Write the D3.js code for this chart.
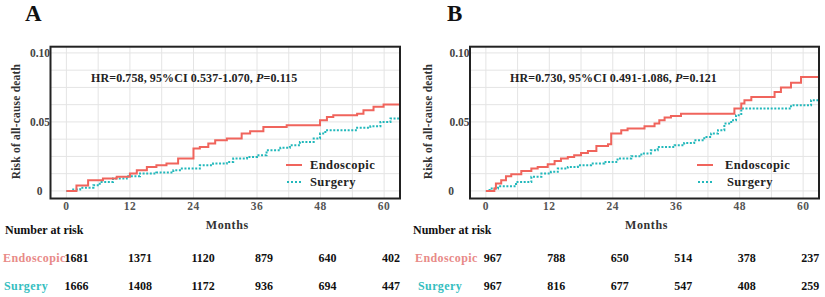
<!DOCTYPE html>
<html>
<head>
<meta charset="utf-8">
<script src="https://cdn.jsdelivr.net/npm/d3@7"></script>
<style>
  body { margin: 0; background: #fff; }
  svg { display: block; font-family: "Liberation Serif", "DejaVu Serif", serif; font-weight: bold; }
</style>
</head>
<body>
<script>
// ---- data ----
var timeTicks = [0, 12, 24, 36, 48, 60];
var riskTicks = [0, 0.05, 0.10];
var riskTickLabels = ["0", "0.05", "0.10"];
var groups = ["Endoscopic", "Surgery"];

// panel A, cumulative risk steps (month, risk)
var aEndoMonths = [0, 1.9, 4.1, 6.9, 9.5, 12, 13.3, 15.2, 17, 18.9, 21.1, 24, 25.2, 26.8, 28.1, 30.3, 33.1, 34.7, 37.2, 41.6, 47.9, 49.2, 50.4, 54.9, 56.1, 58, 59.9, 63];
var aEndoRisk   = [0, 0.004, 0.0078, 0.009, 0.0102, 0.0126, 0.015, 0.0174, 0.0186, 0.0198, 0.0235, 0.0307, 0.0319, 0.0343, 0.0367, 0.038, 0.0416, 0.0433, 0.0464, 0.0476, 0.0512, 0.0536, 0.0549, 0.056, 0.0585, 0.0609, 0.0626, 0.0626];
var aSurgMonths = [0, 1, 2.6, 5.1, 6.3, 8.8, 11.4, 13.9, 17, 20.2, 21.8, 25.2, 27.7, 30.3, 31.5, 34.1, 36, 37.8, 40.4, 42.2, 44.1, 46.7, 47.9, 48.9, 54.9, 57.4, 59.3, 61.2, 63];
var aSurgRisk   = [0, 0.001, 0.0022, 0.0041, 0.0065, 0.009, 0.0107, 0.0126, 0.0133, 0.015, 0.0162, 0.0186, 0.0198, 0.021, 0.0235, 0.0246, 0.0259, 0.0295, 0.0312, 0.0331, 0.0355, 0.038, 0.0416, 0.044, 0.0457, 0.0469, 0.05, 0.0525, 0.0525];

// panel B
var bEndoMonths = [0, 1.6, 1.9, 2.9, 3.8, 4.8, 6.7, 8.6, 9.8, 11.7, 13, 14.2, 15.5, 16.7, 18, 19.3, 20.9, 23.1, 23.7, 25.6, 26.8, 30, 31.9, 32.8, 33.8, 35, 36.9, 47, 48.3, 48.9, 50.2, 54.6, 55.8, 57.7, 59.6, 63];
var bEndoRisk   = [0, 0.0017, 0.0053, 0.0078, 0.0107, 0.0121, 0.0145, 0.0162, 0.0174, 0.0193, 0.0217, 0.0235, 0.0246, 0.0259, 0.0275, 0.029, 0.0326, 0.0338, 0.0416, 0.044, 0.0452, 0.0469, 0.0488, 0.0512, 0.0532, 0.0543, 0.056, 0.0597, 0.0633, 0.0657, 0.0681, 0.0717, 0.0749, 0.0783, 0.0826, 0.0826];
var bSurgMonths = [0, 0.7, 2.3, 5.7, 8.6, 10.5, 12.3, 13.6, 15.5, 17.4, 19.9, 22.4, 24.9, 27.5, 29.4, 31.2, 32.5, 35.7, 37.5, 39.4, 41.3, 42.6, 43.9, 45.1, 46.4, 47.3, 48.3, 57.7, 61.5, 63];
var bSurgRisk   = [0, 0.0017, 0.0034, 0.0065, 0.0102, 0.0126, 0.0138, 0.0162, 0.0174, 0.0186, 0.0198, 0.021, 0.0235, 0.0251, 0.0271, 0.0295, 0.0319, 0.0331, 0.0348, 0.0367, 0.0391, 0.0416, 0.044, 0.0488, 0.0512, 0.0549, 0.0597, 0.0621, 0.0657, 0.0657];

// numbers at risk
var aEndoAtRisk = [1681, 1371, 1120, 879, 640, 402];
var aSurgAtRisk = [1666, 1408, 1172, 936, 694, 447];
var bEndoAtRisk = [967, 788, 650, 514, 378, 237];
var bSurgAtRisk = [967, 816, 677, 547, 408, 259];

var aStats = ["0.758", "0.537-1.070", "0.115"];
var bStats = ["0.730", "0.491-1.086", "0.121"];

// ---- drawing ----
var red = "#f0645c", teal = "#22b8bb";
var redText = "#e88a88", tealText = "#35bec0";

var svg = d3.select("body").append("svg")
    .attr("width", 825)
    .attr("height", 297);

var panels = [
  { letter: "A", ox: 0,   left: 50.5, right: 400, zeroDx: -8,
    endo: [aEndoMonths, aEndoRisk], surg: [aSurgMonths, aSurgRisk],
    atRisk: [aEndoAtRisk, aSurgAtRisk], stats: aStats, hrX: 91, legX: 286, rowLabelX: 3 },
  { letter: "B", ox: 412, left: 470, right: 819, zeroDx: -16,
    endo: [bEndoMonths, bEndoRisk], surg: [bSurgMonths, bSurgRisk],
    atRisk: [bEndoAtRisk, bSurgAtRisk], stats: bStats, hrX: 510, legX: 697, rowLabelX: 415 }
];

var plotTop = 46.7, plotBottom = 198.5;

panels.forEach(function (p) {
  var x = d3.scaleLinear().domain([-3, 63]).range([p.left, p.right]);
  var y = d3.scaleLinear().domain([-0.0055, 0.1045]).range([plotBottom, plotTop]);

  // panel letter
  svg.append("text")
      .attr("x", p.ox + (p.letter == "A" ? 25 : 35))
      .attr("y", 21)
      .attr("font-size", 23)
      .attr("letter-spacing", 1)
      .attr("fill", "#111")
      .text(p.letter);

  // grid
  var g = svg.append("g");
  g.selectAll(".vg")
      .data(d3.range(0, 61, 6))
      .enter().append("line")
      .attr("x1", function (d) { return x(d); })
      .attr("x2", function (d) { return x(d); })
      .attr("y1", plotTop).attr("y2", plotBottom)
      .attr("stroke", "#e4e4e4").attr("stroke-width", 1);
  g.selectAll(".hg")
      .data(d3.range(0, 0.1001, 0.0125))
      .enter().append("line")
      .attr("x1", p.left).attr("x2", p.right)
      .attr("y1", function (d) { return y(d); })
      .attr("y2", function (d) { return y(d); })
      .attr("stroke", "#e4e4e4").attr("stroke-width", 1);

  // curves
  var line = d3.line()
      .x(function (d) { return x(d[0]); })
      .y(function (d) { return y(d[1]); })
      .curve(d3.curveStepAfter);

  svg.append("path")
      .datum(d3.zip(p.surg[0], p.surg[1]))
      .attr("d", line)
      .attr("fill", "none")
      .attr("stroke", teal)
      .attr("stroke-width", 2)
      .attr("stroke-dasharray", "2,1.6");

  svg.append("path")
      .datum(d3.zip(p.endo[0], p.endo[1]))
      .attr("d", line)
      .attr("fill", "none")
      .attr("stroke", red)
      .attr("stroke-width", 2);

  // frame
  svg.append("rect")
      .attr("x", p.left).attr("y", plotTop)
      .attr("width", p.right - p.left).attr("height", plotBottom - plotTop)
      .attr("fill", "none")
      .attr("stroke", "#222")
      .attr("stroke-width", 2);

  // x ticks
  svg.selectAll(".xt" + p.letter)
      .data(timeTicks)
      .enter().append("text")
      .attr("x", function (d) { return x(d); })
      .attr("y", 210)
      .attr("text-anchor", "middle")
      .attr("font-size", 11.5)
      .attr("letter-spacing", 0.5)
      .attr("fill", "#555")
      .text(function (d) { return d; });

  // y ticks
  svg.selectAll(".yt" + p.letter)
      .data(riskTicks)
      .enter().append("text")
      .attr("x", function (d) { return d == 0 ? p.left + p.zeroDx : p.left - 0.5; })
      .attr("y", function (d) { return y(d) + 4; })
      .attr("text-anchor", "end")
      .attr("font-size", 11.5)
      .attr("fill", "#444")
      .text(function (d, i) { return riskTickLabels[i]; });

  // axis titles
  svg.append("text")
      .attr("transform", "translate(" + (p.ox + 16) + "," + ((plotTop + plotBottom) / 2 - 1) + ") rotate(-90)")
      .attr("text-anchor", "middle")
      .attr("dominant-baseline", "central")
      .attr("font-size", 11.5)
      .attr("letter-spacing", 0.2)
      .attr("fill", "#333")
      .text("Risk of all-cause death");

  svg.append("text")
      .attr("x", (x(0) + x(60)) / 2 + 2)
      .attr("y", 229)
      .attr("text-anchor", "middle")
      .attr("font-size", 12)
      .attr("letter-spacing", 0.6)
      .attr("fill", "#333")
      .text("Months");

  // HR annotation
  var hr = svg.append("text")
      .attr("x", p.hrX)
      .attr("y", 82)
      .attr("font-size", 12)
      .attr("letter-spacing", 0.1)
      .attr("fill", "#222");
  hr.append("tspan").text("HR=" + p.stats[0] + ", 95%CI " + p.stats[1] + ", ");
  hr.append("tspan").attr("font-style", "italic").text("P");
  hr.append("tspan").text("=" + p.stats[2]);

  // legend
  svg.append("line")
      .attr("x1", p.legX).attr("x2", p.legX + 16)
      .attr("y1", 165).attr("y2", 165)
      .attr("stroke", red).attr("stroke-width", 2);
  svg.append("line")
      .attr("x1", p.legX + 1).attr("x2", p.legX + 16)
      .attr("y1", 182).attr("y2", 182)
      .attr("stroke", teal).attr("stroke-width", 2)
      .attr("stroke-dasharray", "2,2");
  svg.append("text")
      .attr("x", p.legX + (p.letter == "A" ? 24 : 28)).attr("y", 169)
      .attr("font-size", 12.5).attr("letter-spacing", 0.4)
      .attr("fill", "#222")
      .text(groups[0]);
  svg.append("text")
      .attr("x", p.legX + (p.letter == "A" ? 24 : 30)).attr("y", 185.5)
      .attr("font-size", 12.5).attr("letter-spacing", 0.4)
      .attr("fill", "#222")
      .text(groups[1]);

  // risk table
  svg.append("text")
      .attr("x", p.ox + (p.letter == "A" ? 5 : 1))
      .attr("y", 234)
      .attr("font-size", 12)
      .attr("fill", "#111")
      .text("Number at risk");

  var rowY = [262, 290];
  var rowColor = [redText, tealText];
  [0, 1].forEach(function (r) {
    svg.append("text")
        .attr("x", p.rowLabelX + (r == 1 ? (p.letter == "A" ? 1 : 3) : 0))
        .attr("y", rowY[r])
        .attr("font-size", 12)
        .attr("letter-spacing", 0.4)
        .attr("fill", rowColor[r])
        .text(groups[r]);
    svg.selectAll(".n" + p.letter + r)
        .data(p.atRisk[r])
        .enter().append("text")
        .attr("x", function (d, i) { return x(timeTicks[i]) - 2; })
        .attr("y", rowY[r])
        .attr("font-size", 12)
        .attr("fill", "#111")
        .text(function (d) { return d; });
  });
});
</script>
</body>
</html>
